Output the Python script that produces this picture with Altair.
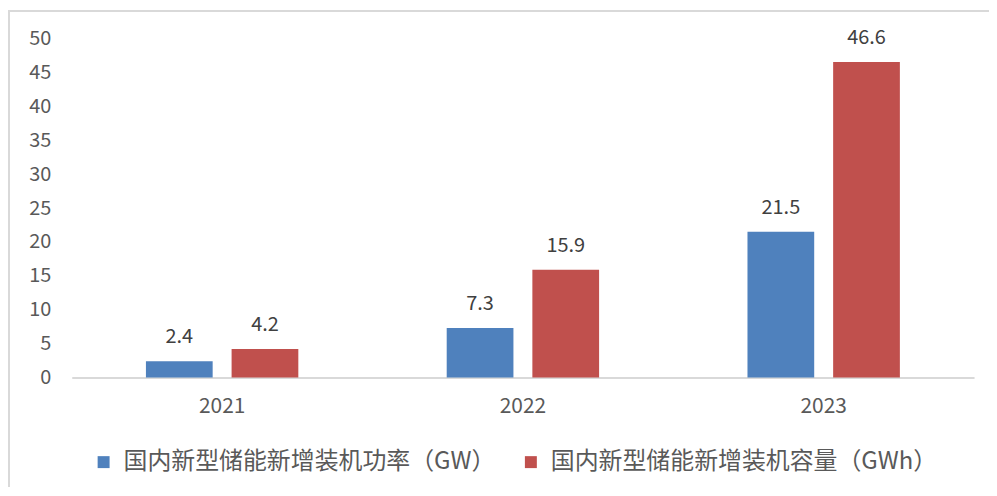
import altair as alt
import pandas as pd

years = ["2021", "2022", "2023"]
power_gw = [2.4, 7.3, 21.5]
capacity_gwh = [4.2, 15.9, 46.6]
series_names = ["国内新型储能新增装机功率（GW）", "国内新型储能新增装机容量（GWh）"]
series_colors = ["#4f81bd", "#c0504d"]
y_ticks = [0, 5, 10, 15, 20, 25, 30, 35, 40, 45, 50]

rows = []
for i, y in enumerate(years):
    rows.append({"year": y, "series": series_names[0], "value": power_gw[i]})
    rows.append({"year": y, "series": series_names[1], "value": capacity_gwh[i]})
df = pd.DataFrame(rows)

FONT = "Noto Sans CJK SC"
W, H = 906, 340
PAD = {"left": 64, "top": 30, "right": 15, "bottom": 110}

x_axis = alt.Axis(
    title=None,
    labelAngle=0,
    ticks=False,
    domain=True,
    domainColor="#d9d9d9",
    domainWidth=2,
    labelFontSize=21,
    labelColor="#595959",
    labelFont=FONT,
    labelPadding=18,
)
y_axis = alt.Axis(
    title=None,
    values=y_ticks,
    tickCount=11,
    ticks=False,
    domain=False,
    grid=False,
    labelOverlap=False,
    labelFontSize=20,
    labelColor="#595959",
    labelFont=FONT,
    labelPadding=21,
)
x_enc = alt.X(
    "year:N",
    sort=years,
    scale=alt.Scale(paddingInner=0, paddingOuter=0),
    axis=x_axis,
)
xoff_enc = alt.XOffset(
    "series:N",
    sort=series_names,
    scale=alt.Scale(paddingInner=0.221, paddingOuter=0.866),
)
y_enc = alt.Y(
    "value:Q",
    scale=alt.Scale(domain=[0, 50], nice=False),
    axis=y_axis,
)

bars = alt.Chart(df).mark_bar(size=67).encode(
    x=x_enc,
    xOffset=xoff_enc,
    y=y_enc,
    color=alt.Color(
        "series:N",
        sort=series_names,
        scale=alt.Scale(domain=series_names, range=series_colors),
        legend=alt.Legend(
            title=None,
            orient="none",
            direction="horizontal",
            legendX=20,
            legendY=413,
            symbolType="square",
            symbolSize=144,
            symbolStrokeWidth=0,
            labelFontSize=24,
            labelFont=FONT,
            labelColor="#595959",
            labelOffset=8,
            columnPadding=23,
            labelLimit=600,
        ),
    ),
)

labels = alt.Chart(df).mark_text(
    dy=-18, baseline="alphabetic", fontSize=20, color="#404040", font=FONT
).encode(
    x=x_enc,
    xOffset=xoff_enc,
    y=y_enc,
    text=alt.Text("value:Q", format=".1f"),
)

frame = pd.DataFrame({"b": [0]})
top_border = alt.Chart(frame).mark_rule(stroke="#d9d9d9", strokeWidth=2).encode(
    x=alt.value(-64),
    x2=alt.value(W + PAD["right"]),
    y=alt.value(-28),
)
left_border = alt.Chart(frame).mark_rule(stroke="#d9d9d9", strokeWidth=2).encode(
    x=alt.value(-63),
    y=alt.value(-29),
    y2=alt.value(H + PAD["bottom"]),
)

chart = (
    alt.layer(top_border, left_border, bars, labels)
    .properties(
        width=W,
        height=H,
        autosize=alt.AutoSizeParams(type="none"),
        padding=PAD,
    )
    .configure_view(stroke=None)
    .configure_axisY(labelOverlap=False)
)

chart.save("out.html", embed_options={"renderer": "svg", "actions": False})
